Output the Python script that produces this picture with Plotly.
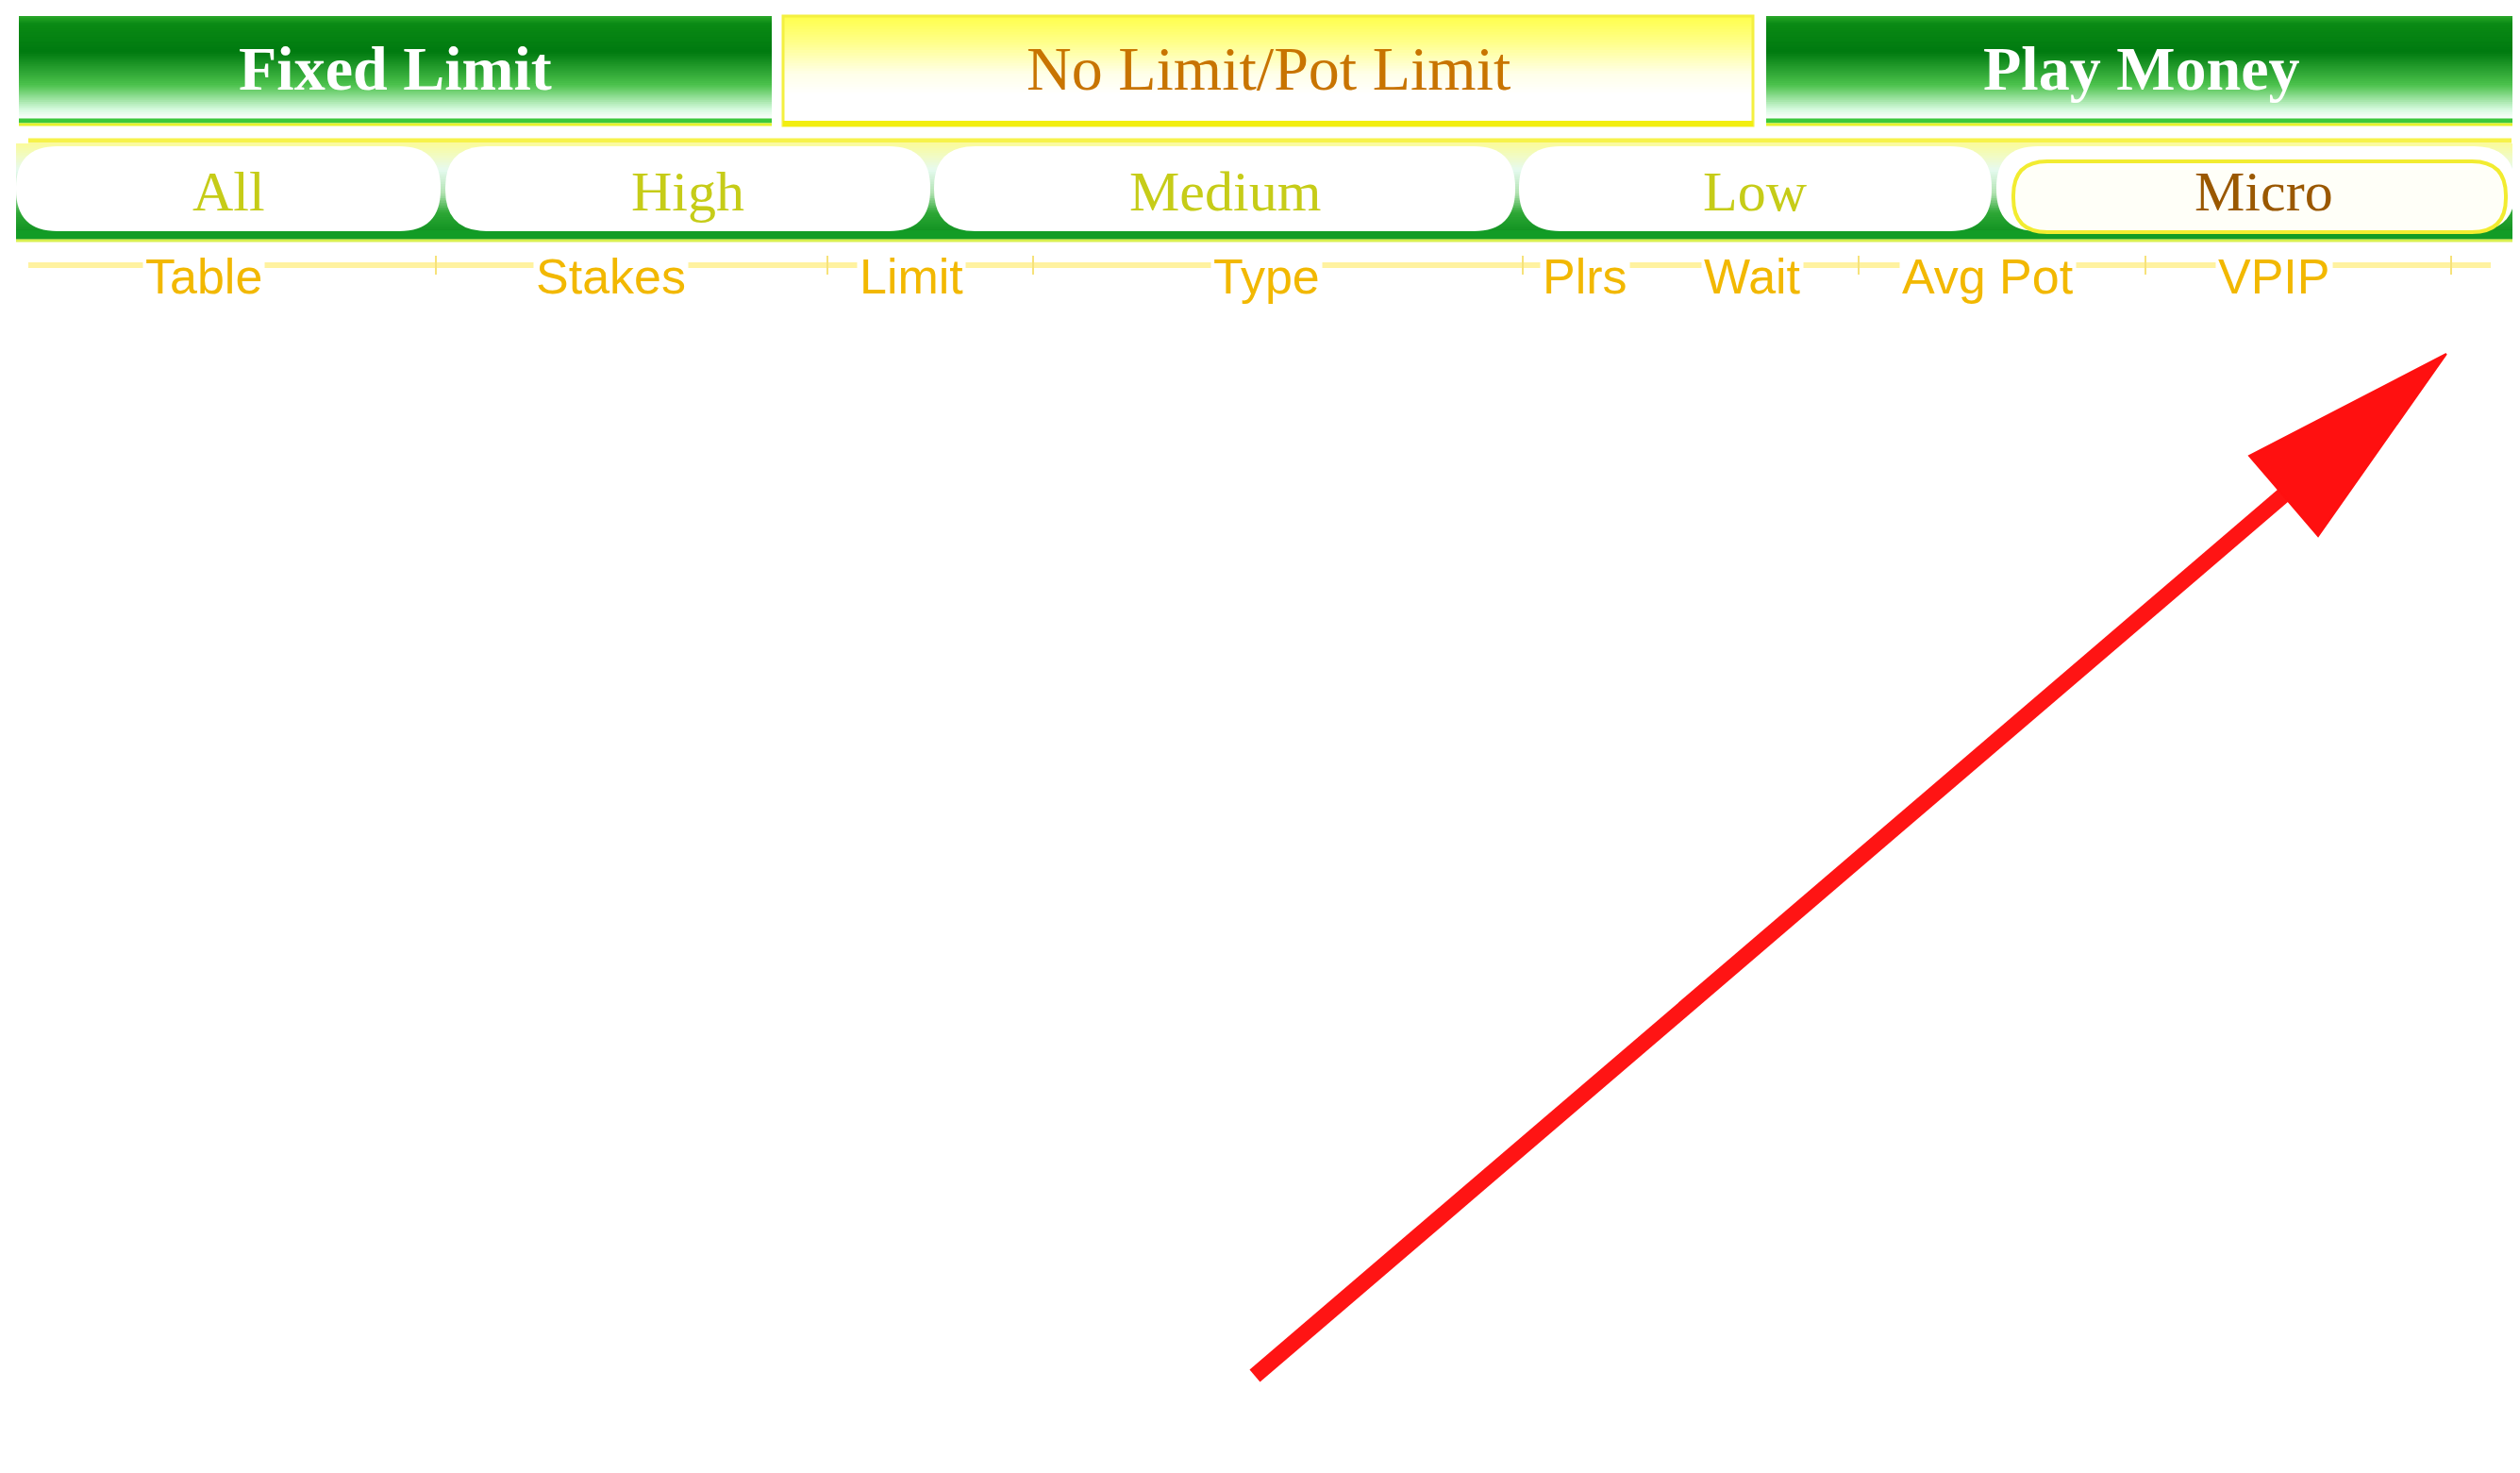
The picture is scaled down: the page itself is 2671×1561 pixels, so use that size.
import plotly.graph_objects as go

W, H = 2671, 1561
PAGE_MARGIN = 8  # default body margin of the html page

# ---- content ----
top_tabs = ["Fixed Limit", "No Limit/Pot Limit", "Play Money"]
top_selected = [False, True, False]
stake_tabs = ["All", "High", "Medium", "Low", "Micro"]
stake_selected = [False, False, False, False, True]
columns = ["Table", "Stakes", "Limit", "Type", "Plrs", "Wait", "Avg Pot", "VPIP"]

# ---- geometry (pixel layout of the widget) ----
top_x = [(20, 818), (830, 1858), (1872, 2666)]
top_y = (17, 133)
pill_x = [(17, 467), (472, 986), (990, 1606), (1610, 2111), (2116, 2666)]
pill_y = (155, 245)
col_x = [216, 647, 966, 1342, 1680, 1857, 2107, 2410]
pipe_x = [462, 877, 1095, 1614, 1970, 2274, 2598]
arrow_tail = (1330, 1458)
arrow_base = (2420, 525)
arrow_head = [(2593, 375), (2384, 483), (2457, 568)]

shapes = []


def hex2rgb(h):
    h = h.lstrip("#")
    return tuple(int(h[i:i + 2], 16) for i in (0, 2, 4))


def gradient(x0, x1, stops, n=60):
    """stops: list of (y, color) ascending in y"""
    ys0, ys1 = stops[0][0], stops[-1][0]
    step = (ys1 - ys0) / n
    for i in range(n):
        ya = ys0 + i * step
        yb = ya + step + 0.8
        ym = ya + step / 2
        for j in range(len(stops) - 1):
            if stops[j][0] <= ym <= stops[j + 1][0]:
                t = (ym - stops[j][0]) / max(1e-9, stops[j + 1][0] - stops[j][0])
                c0, c1 = hex2rgb(stops[j][1]), hex2rgb(stops[j + 1][1])
                c = tuple(int(round(c0[k] + (c1[k] - c0[k]) * t)) for k in range(3))
                break
        shapes.append(dict(type="rect", xref="x", yref="y", x0=x0, x1=x1, y0=ya, y1=yb,
                           fillcolor="rgb(%d,%d,%d)" % c, line=dict(width=0), layer="below"))


def rounded(x0, x1, y0, y1, r):
    return (f"M {x0 + r},{y0} L {x1 - r},{y0} Q {x1},{y0} {x1},{y0 + r} "
            f"L {x1},{y1 - r} Q {x1},{y1} {x1 - r},{y1} L {x0 + r},{y1} "
            f"Q {x0},{y1} {x0},{y1 - r} L {x0},{y0 + r} Q {x0},{y0} {x0 + r},{y0} Z")


# ---- top tabs ----
green_stops = [(top_y[0], "#2aa82a"), (top_y[0] + 8, "#0a8a14"), (55, "#007a10"),
               (90, "#4cc24c"), (116, "#d6fade"), (126, "#ffffff"), (top_y[1] - 5, "#ffffff")]
yellow_stops = [(top_y[0], "#ffff4a"), (45, "#ffff8a"), (78, "#ffffe8"), (100, "#ffffff"),
                (top_y[1] - 5, "#ffffff")]
for (x0, x1), sel in zip(top_x, top_selected):
    if sel:
        gradient(x0, x1, yellow_stops, n=40)
        shapes.append(dict(type="rect", x0=x0, x1=x1, y0=top_y[0], y1=top_y[1],
                           line=dict(color="#f4f040", width=3), fillcolor="rgba(0,0,0,0)"))
        shapes.append(dict(type="line", x0=x0, x1=x1, y0=top_y[1] - 2, y1=top_y[1] - 2,
                           line=dict(color="#f2ee10", width=6)))
    else:
        gradient(x0, x1, green_stops, n=50)
        shapes.append(dict(type="line", x0=x0, x1=x1, y0=top_y[1] - 5, y1=top_y[1] - 5,
                           line=dict(color="#3cc83c", width=5)))
        shapes.append(dict(type="line", x0=x0, x1=x1, y0=top_y[1] - 1, y1=top_y[1] - 1,
                           line=dict(color="#e6f22a", width=3)))

# thin yellow separator
shapes.append(dict(type="line", x0=30, x1=2662, y0=149, y1=149, line=dict(color="#f6f24a", width=5)))

# ---- stake pill bar ----
gradient(17, 2666, [(152, "#fbfb9a"), (180, "#e6faf0"), (205, "#b0e2b0"),
                    (225, "#2ea836"), (253, "#078a1a")], n=40)
shapes.append(dict(type="rect", x0=17, x1=2666, y0=244, y1=253, fillcolor="#129c26", line=dict(width=0)))
shapes.append(dict(type="line", x0=17, x1=2666, y0=255, y1=255, line=dict(color="#d8f050", width=3)))
for (x0, x1), sel in zip(pill_x, stake_selected):
    shapes.append(dict(type="path", path=rounded(x0, x1, pill_y[0], pill_y[1], 44),
                       fillcolor="#ffffff", line=dict(width=0)))
    if sel:
        shapes.append(dict(type="path", path=rounded(x0 + 18, x1 - 10, 171, 246, 36),
                           fillcolor="rgba(255,255,160,0.08)", line=dict(color="#f2ec30", width=4)))

# ---- column header strip ----
shapes.append(dict(type="line", x0=30, x1=2640, y0=281, y1=281, line=dict(color="#fff2a0", width=6)))
for px in pipe_x:
    shapes.append(dict(type="line", x0=px, x1=px, y0=271, y1=291, line=dict(color="#f6e27a", width=2)))

annotations = []
for (x0, x1), label, sel in zip(top_x, top_tabs, top_selected):
    annotations.append(dict(
        x=(x0 + x1) / 2, y=72, text=label if sel else f"<b>{label}</b>", showarrow=False,
        xanchor="center", yanchor="middle",
        font=dict(family="Liberation Serif, Times New Roman, serif", size=66 if not sel else 66,
                  color="#c87400" if sel else "#ffffff")))
for (x0, x1), label, sel in zip(pill_x, stake_tabs, stake_selected):
    annotations.append(dict(
        x=(x0 + x1) / 2 + (8 if sel else 0), y=203, text=label, showarrow=False,
        xanchor="center", yanchor="middle",
        font=dict(family="Liberation Serif, Times New Roman, serif", size=60,
                  color="#9a5800" if sel else "#c6cc18")))
for cx, label in zip(col_x, columns):
    annotations.append(dict(
        x=cx, y=293, text=label, showarrow=False, xanchor="center", yanchor="middle",
        bgcolor="#ffffff", borderpad=2,
        font=dict(family="Liberation Sans, Arial, sans-serif", size=52, color="#f2b800")))

fig = go.Figure()
# arrow shaft
fig.add_trace(go.Scatter(x=[arrow_tail[0], arrow_base[0]], y=[arrow_tail[1], arrow_base[1]],
                         mode="lines", line=dict(color="#ff1414", width=17), hoverinfo="skip",
                         showlegend=False))
# arrow head
fig.add_trace(go.Scatter(x=[p[0] for p in arrow_head] + [arrow_head[0][0]],
                         y=[p[1] for p in arrow_head] + [arrow_head[0][1]],
                         mode="lines", fill="toself", fillcolor="#ff1010",
                         line=dict(color="#ff1010", width=2), hoverinfo="skip", showlegend=False))

for s in shapes:
    s.setdefault("xref", "x")
    s.setdefault("yref", "y")

m = PAGE_MARGIN
fig.update_layout(
    width=W - 2 * m, height=H - 2 * m, margin=dict(l=0, r=0, t=0, b=0),
    paper_bgcolor="#ffffff", plot_bgcolor="#ffffff",
    xaxis=dict(range=[m, W - m], visible=False, fixedrange=True),
    yaxis=dict(range=[H - m, m], visible=False, fixedrange=True),
    shapes=shapes, annotations=annotations, showlegend=False,
)
fig.write_html("out.html", config={"displayModeBar": False})
